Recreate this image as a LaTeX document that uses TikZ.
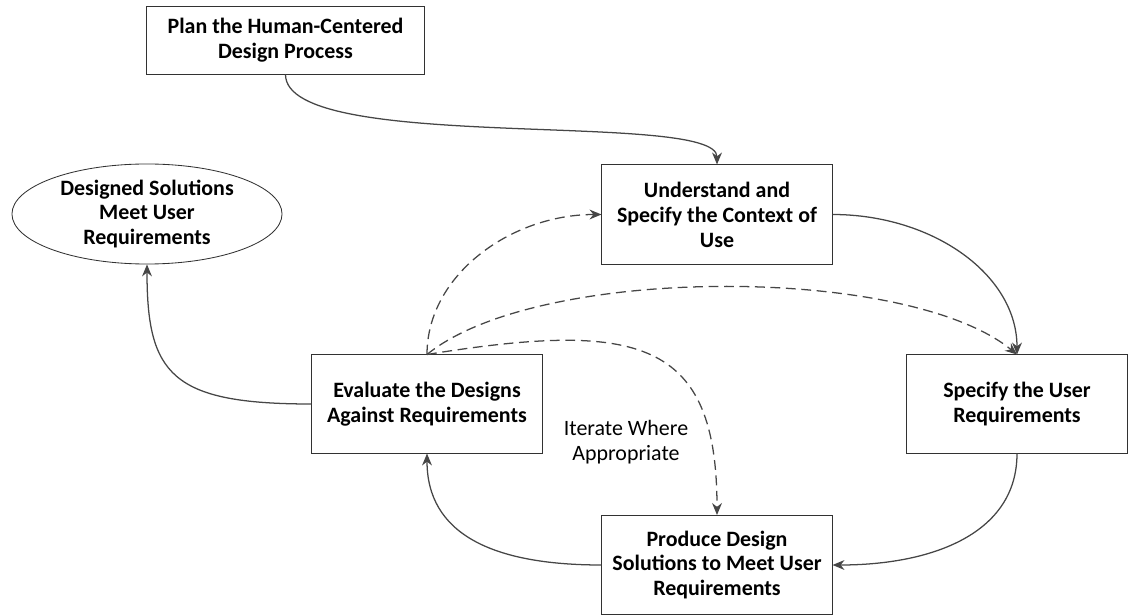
\documentclass[tikz,border=0pt]{standalone}
\usepackage{fontspec}
\setmainfont{Carlito}
\usetikzlibrary{arrows.meta,shapes.geometric}

\begin{document}
\begin{tikzpicture}[x=0.025cm,y=-0.025cm,
  stepbox/.style={draw=boxline,line width=0.7pt,align=center,inner sep=2pt,
    font=\fontsize{15.6}{17.7}\selectfont\bfseries},
  goalnode/.style={ellipse,draw=boxline,line width=0.6pt,align=center,inner sep=0pt,
    minimum width=6.75cm,minimum height=2.5cm,font=\fontsize{15.6}{17.7}\selectfont\bfseries},
  flow/.style={draw=arrowline,line width=0.9pt,-{Stealth[length=8.5pt,width=7pt]}},
  iter/.style={flow,dash pattern=on 7pt off 4pt}]
% Define line colours
\definecolor{boxline}{RGB}{50,50,50}
\definecolor{arrowline}{RGB}{70,70,70}

\useasboundingbox (0,0) rectangle (1128,615);

% Draw process steps
\node[stepbox,minimum width=6.925cm,minimum height=1.675cm] (plan) at (285.5,40.5)
  {Plan the Human-Centered\\Design Process};
\node[stepbox,minimum width=5.75cm,minimum height=2.475cm] (context) at (717,214.5)
  {Understand and\\Specify the Context of\\Use};
\node[stepbox,minimum width=5.5cm,minimum height=2.45cm] (userreq) at (1017,404)
  {Specify the User\\Requirements};
\node[stepbox,minimum width=5.75cm,minimum height=2.475cm] (produce) at (717,565)
  {Produce Design\\Solutions to Meet User\\Requirements};
\node[stepbox,minimum width=5.75cm,minimum height=2.45cm] (evaluate) at (427,404)
  {Evaluate the Designs\\Against Requirements};
\node[goalnode] (goal) at (147,214)
  {Designed Solutions\\Meet User\\Requirements};

% Draw main cycle
\draw[flow] (plan.south) .. controls +(0,80) and +(0,-55) .. (context.north);
\draw[flow] (context.east) .. controls +(100,0) and +(0,-80) .. (userreq.north);
\draw[flow] (userreq.south) .. controls +(0,80) and +(100,0) .. (produce.east);
\draw[flow] (produce.west) .. controls +(-110,0) and +(0,80) .. (evaluate.south);
\draw[flow] (evaluate.west) .. controls +(-140,0) and +(0,110) .. (goal.south);

% Draw iteration arrows
\draw[iter] (evaluate.north) .. controls +(0,-80) and +(-90,0) .. (context.west);
\draw[iter] (evaluate.north) .. controls +(110,-90) and +(-110,-90) .. (userreq.north);
\draw[iter] (evaluate.north) .. controls (640,320) and (717,340) .. (produce.north);

% Add label
\node[align=center,font=\fontsize{15.6}{17.7}\selectfont] (iterlabel) at (626,442)
  {Iterate Where\\Appropriate};
\end{tikzpicture}
\end{document}
